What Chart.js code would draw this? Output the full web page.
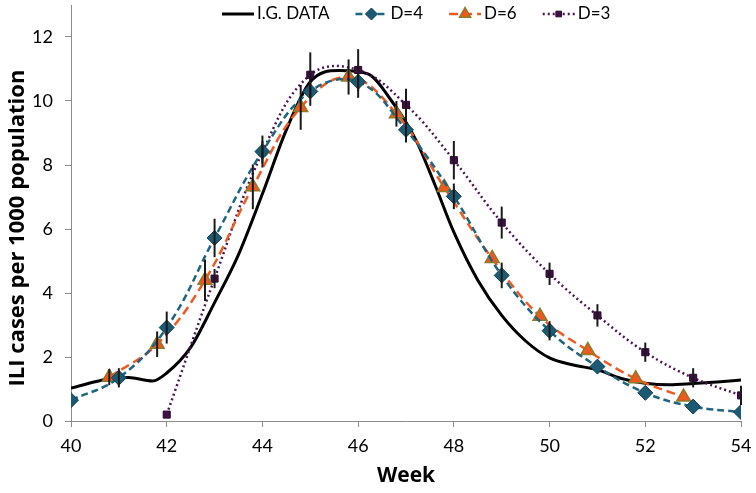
<!DOCTYPE html>
<html>
<head>
<meta charset="utf-8">
<script src="https://cdn.jsdelivr.net/npm/chart.js@4.4.0/dist/chart.umd.min.js"></script>
<style>
  html, body { margin: 0; padding: 0; background: #fff; }
</style>
</head>
<body>
<canvas id="iliChart" width="756" height="493"></canvas>
<script>
// I.G. data (smooth black curve)
const igWeeks  = [40, 40.8, 41.2, 41.7, 42, 42.5, 43, 43.5, 44, 44.5, 45, 45.6, 46.2, 46.7, 47.2, 47.6, 48, 48.5, 49, 49.5, 50, 50.5, 51, 51.5, 52, 52.5, 53, 53.5, 54];
const igValues = [1.03, 1.32, 1.36, 1.25, 1.5, 2.3, 3.7, 5.2, 7.1, 9.1, 10.6, 10.95, 10.85, 10.0, 8.8, 7.4, 5.9, 4.4, 3.3, 2.5, 1.97, 1.75, 1.6, 1.33, 1.18, 1.13, 1.17, 1.22, 1.28];

// D=4
const d4Weeks  = [40, 41, 42, 43, 44, 45, 46, 47, 48, 49, 50, 51, 52, 53, 54];
const d4Values = [0.65, 1.35, 2.92, 5.72, 8.42, 10.3, 10.6, 9.1, 7.02, 4.55, 2.82, 1.7, 0.88, 0.45, 0.28];
const d4Err    = [0, 0.3, 0.5, 0.6, 0.5, 0.45, 0.5, 0.4, 0.4, 0.4, 0.3, 0, 0, 0, 0];

// D=6
const d6Weeks  = [40.8, 41.8, 42.8, 43.8, 44.8, 45.8, 46.8, 47.8, 48.8, 49.8, 50.8, 51.8, 52.8];
const d6Values = [1.37, 2.4, 4.4, 7.32, 9.8, 10.75, 9.6, 7.3, 5.08, 3.27, 2.2, 1.32, 0.75];
const d6Err    = [0.25, 0.4, 0.65, 0.7, 0.7, 0.55, 0.4, 0, 0, 0, 0, 0, 0];

// D=3
const d3Weeks  = [42, 43, 44, 45, 46, 47, 48, 49, 50, 51, 52, 53, 54];
const d3Values = [0.2, 4.45, 8.4, 10.82, 10.97, 9.88, 8.15, 6.2, 4.6, 3.3, 2.15, 1.35, 0.8];
const d3Err    = [0, 0.3, 0.35, 0.7, 0.65, 0.5, 0.6, 0.5, 0.35, 0.35, 0.3, 0.3, 0.3];

const xTicks = [40, 42, 44, 46, 48, 50, 52, 54];
const yTicks = [0, 2, 4, 6, 8, 10, 12];
const yTitle = 'ILI cases per 1000 population';

const FONT = 'Lato, "Open Sans", sans-serif';
const TITLE_FONT = '"Open Sans", Lato, sans-serif';

function toPoints(xs, ys) {
  return xs.map((x, i) => ({ x: x, y: ys[i] }));
}

// vertical error bars
const errorBarPlugin = {
  id: 'errorBars',
  afterDatasetsDraw(chart) {
    const ctx = chart.ctx;
    const xs = chart.scales.x, ys = chart.scales.y;
    ctx.save();
    ctx.strokeStyle = '#1a1a1a';
    ctx.lineWidth = 2;
    chart.data.datasets.forEach(ds => {
      if (!ds.errors) return;
      ds.data.forEach((p, i) => {
        const e = ds.errors[i];
        if (!e) return;
        const px = xs.getPixelForValue(p.x);
        ctx.beginPath();
        ctx.moveTo(px, ys.getPixelForValue(p.y - e));
        ctx.lineTo(px, ys.getPixelForValue(p.y + e));
        ctx.stroke();
      });
    });
    ctx.restore();
  }
};

// legend with line sample + marker inside the top of the plot, and the y title
const topLegendPlugin = {
  id: 'topLegend',
  afterDraw(chart) {
    const ctx = chart.ctx;
    const y = 14;
    let x = 222;
    ctx.save();
    ctx.font = '17px ' + FONT;
    ctx.textBaseline = 'middle';
    chart.data.datasets.forEach(ds => {
      ctx.save();
      ctx.strokeStyle = ds.borderColor;
      ctx.lineWidth = ds.borderWidth;
      ctx.setLineDash(ds.borderDash || []);
      ctx.beginPath();
      ctx.moveTo(x, y);
      ctx.lineTo(x + 32, y);
      ctx.stroke();
      ctx.restore();
      if (ds.pointRadius > 0) {
        ctx.fillStyle = ds.pointBackgroundColor;
        ctx.strokeStyle = ds.pointBorderColor;
        ctx.lineWidth = ds.pointBorderWidth;
        Chart.helpers.drawPoint(ctx, {
          pointStyle: ds.pointStyle, radius: ds.pointRadius * 0.8,
          rotation: 0, borderWidth: ds.pointBorderWidth
        }, x + 16, y);
      }
      ctx.fillStyle = '#000';
      ctx.fillText(ds.label, x + 35, y);
      x += 35 + ctx.measureText(ds.label).width + 26;
    });

    // y axis title
    ctx.translate(18, 228);
    ctx.rotate(-Math.PI / 2);
    ctx.font = 'bold 22px ' + TITLE_FONT;
    ctx.textAlign = 'center';
    ctx.fillText(yTitle, 0, 0);
    ctx.restore();
  }
};

const tickFont = { family: FONT, size: 18 };

new Chart(document.getElementById('iliChart'), {
  type: 'line',
  data: {
    datasets: [
      {
        label: 'I.G. DATA',
        data: toPoints(igWeeks, igValues),
        borderColor: '#000',
        borderWidth: 3,
        pointRadius: 0,
        cubicInterpolationMode: 'monotone',
        order: 4
      },
      {
        label: 'D=4',
        data: toPoints(d4Weeks, d4Values),
        errors: d4Err,
        borderColor: '#1f6580',
        borderWidth: 2.5,
        borderDash: [7, 4],
        tension: 0.4,
        pointStyle: 'rectRot',
        pointRadius: 7.5,
        pointBackgroundColor: '#1c5a74',
        pointBorderColor: '#123f52',
        pointBorderWidth: 1,
        order: 1
      },
      {
        label: 'D=6',
        data: toPoints(d6Weeks, d6Values),
        errors: d6Err,
        borderColor: '#ee5a1f',
        borderWidth: 2.5,
        borderDash: [9, 5],
        tension: 0.4,
        pointStyle: 'triangle',
        pointRadius: 8,
        pointBackgroundColor: '#f0581c',
        pointBorderColor: '#8d7a2a',
        pointBorderWidth: 1.5,
        order: 2
      },
      {
        label: 'D=3',
        data: toPoints(d3Weeks, d3Values),
        errors: d3Err,
        borderColor: '#4b1554',
        borderWidth: 2.5,
        borderDash: [2, 3],
        tension: 0.4,
        pointStyle: 'rect',
        pointRadius: 5,
        pointBackgroundColor: '#3f0f45',
        pointBorderColor: '#2a0830',
        pointBorderWidth: 1,
        order: 3
      }
    ]
  },
  options: {
    responsive: false,
    animation: false,
    layout: { autoPadding: false, padding: { top: 5, right: 15, left: 0, bottom: 0 } },
    plugins: {
      legend: { display: false },
      tooltip: { enabled: false }
    },
    scales: {
      x: {
        type: 'linear',
        min: xTicks[0],
        max: xTicks[xTicks.length - 1],
        afterBuildTicks: s => { s.ticks = xTicks.map(v => ({ value: v })); },
        afterFit: s => { s.height = 72; s.paddingLeft = 0; s.paddingRight = 0; },
        ticks: { font: tickFont, color: '#000', padding: 8 },
        grid: { drawOnChartArea: false, tickLength: 6, color: '#8c8c8c' },
        border: { color: '#8c8c8c' },
        title: { display: true, text: 'Week', font: { family: TITLE_FONT, size: 21, weight: 'bold' }, color: '#000' }
      },
      y: {
        min: 0,
        max: 13,
        bounds: 'data',
        afterBuildTicks: s => { s.ticks = yTicks.map(v => ({ value: v })); },
        afterFit: s => { s.width = 71; s.paddingTop = 0; s.paddingBottom = 0; },
        ticks: { font: tickFont, color: '#000', padding: 12 },
        grid: { drawOnChartArea: false, tickLength: 6, color: '#8c8c8c' },
        border: { color: '#8c8c8c' }
      }
    }
  },
  plugins: [errorBarPlugin, topLegendPlugin]
});
</script>
</body>
</html>
